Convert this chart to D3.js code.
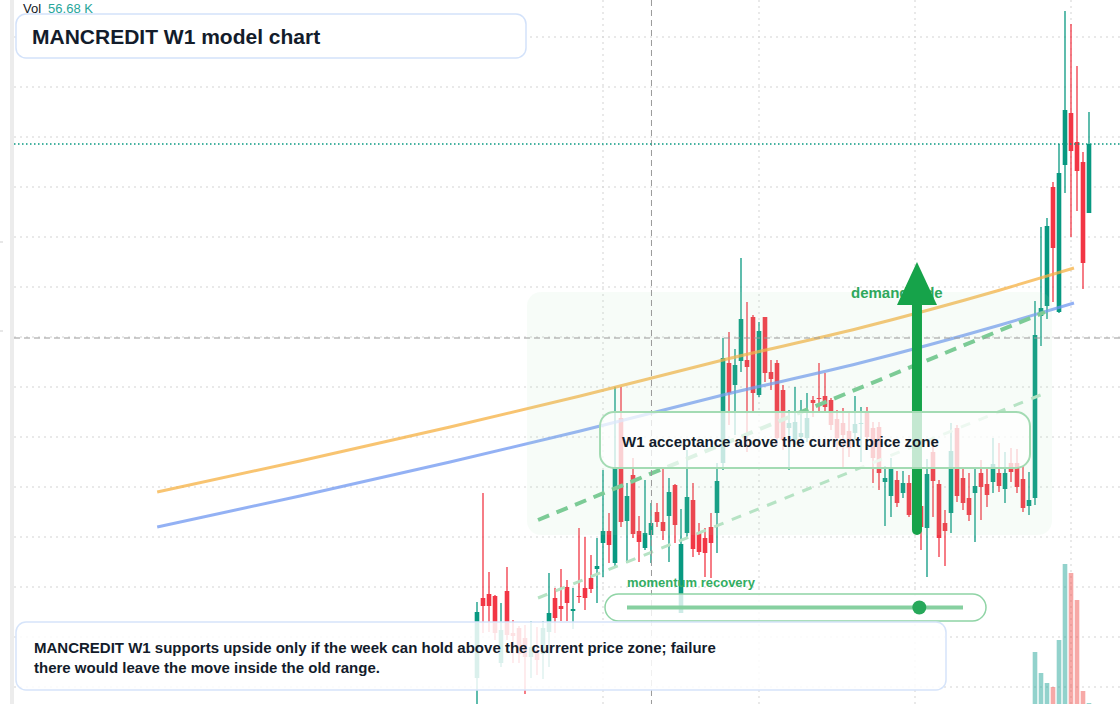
<!DOCTYPE html>
<html lang='en'>
	<head>
		<meta charset='utf-8'>
		<title>MANCREDIT W1 model chart</title>
		<script type='text/javascript' src='https://cdn.jsdelivr.net/npm/d3@7/dist/d3.min.js'></script>
		<style>
			body { margin: 0; background: #fff; }
			svg { display: block; font-family: 'Liberation Sans', Arial, sans-serif; }
		</style>
	</head>
	<body>
		<script type='text/javascript'>
		// weekly candles, oldest first (price units)
		var opens  = [11.8,27.8,28.6,28.2,14.8,29.2,20.8,21.8,19.8,16.0,17.4,16.6,21.0,27.8,26.2,30.0,25.2,28.2,29.8,31.8,33.6,38.8,41.2,34.8,63.8,43.2,52.4,41.2,37.8,40.4,45.0,43.0,44.2,50.4,24.8,40.8,47.4,40.8,39.8,42.0,44.8,54.8,74.8,70.4,75.2,75.4,84.0,68.4,84.0,73.0,74.8,69.4,61.8,59.4,60.0,59.8,67.4,67.8,68.2,67.4,63.6,62.8,61.2,60.8,62.6,65.0,61.8,62.0,51.0,48.2,51.4,48.8,50.8,49.4,46.2,41.8,57.0,50.6,42.8,44.8,61.8,51.8,47.8,48.8,52.8,50.6,51.0,52.8,49.6,54.8,54.8,51.6,46.2,47.8,84.2,86.2,110.0,85.0,114.4,124.8,119.0,115.0,104.8];
		var highs  = [27.0,48.8,33.0,28.4,26.8,34.0,23.4,22.2,22.4,23.2,22.0,23.2,32.8,29.8,33.6,31.4,29.8,41.8,40.0,36.4,39.8,53.4,44.8,70.0,70.0,50.8,55.8,44.2,51.4,46.8,46.8,53.6,51.8,50.6,45.6,57.4,50.8,42.8,41.8,44.8,54.8,79.8,81.0,77.6,95.8,87.0,84.4,83.0,84.0,75.4,75.4,70.4,65.4,70.0,67.4,68.8,68.2,74.8,72.8,67.8,65.4,65.8,65.0,68.2,66.0,66.0,63.0,63.0,54.2,55.8,53.2,53.2,52.4,51.8,48.4,55.6,59.4,51.4,45.4,62.8,62.4,54.0,52.8,53.8,55.4,53.8,59.8,58.8,57.0,57.8,57.6,54.2,53.0,87.2,102.0,103.8,111.0,118.6,145.2,142.6,134.2,117.0,125.0];
		var lows   = [6.6,20.8,21.0,19.4,14.0,19.4,14.8,14.8,8.6,11.8,12.4,11.6,14.0,20.8,23.2,23.2,21.6,26.8,25.4,28.8,26.8,32.0,34.8,33.8,42.0,34.8,39.8,35.0,37.4,34.8,42.0,39.4,35.0,38.8,24.8,39.8,36.0,36.4,32.0,31.8,36.8,53.4,62.4,60.4,73.0,57.0,64.8,68.0,71.0,69.4,58.4,57.4,53.4,58.4,59.4,59.0,64.0,65.0,65.0,61.4,57.4,54.0,56.0,59.4,55.0,58.0,50.8,49.4,42.2,44.0,46.0,47.8,44.0,41.0,37.4,32.0,44.0,36.0,34.2,40.8,47.0,45.4,43.2,39.0,43.4,46.0,48.8,49.0,46.8,51.0,48.8,45.0,44.4,46.4,78.2,83.6,87.0,84.8,108.8,100.0,105.2,89.6,104.8];
		var closes = [25.0,26.2,26.2,20.8,21.4,20.4,20.2,16.6,16.0,18.0,15.4,21.8,24.8,23.8,25.6,26.8,25.6,28.0,27.8,29.6,34.2,41.2,38.4,54.0,43.0,48.2,40.6,39.0,40.8,42.8,43.0,41.2,49.0,42.4,38.6,48.0,37.6,37.0,36.8,38.8,51.2,75.8,68.8,74.4,83.6,74.0,68.8,81.2,72.8,71.6,59.8,59.4,62.8,63.0,60.8,63.8,66.8,67.6,66.0,62.4,59.8,60.4,57.8,62.6,62.8,60.0,55.8,52.8,51.8,53.8,46.8,50.8,44.4,42.4,42.0,52.6,51.2,39.8,41.2,57.2,48.2,46.8,44.4,50.2,50.0,48.4,54.6,50.2,52.8,53.0,50.0,45.8,47.4,80.4,85.8,102.2,97.8,112.8,125.4,117.2,113.2,94.8,118.6];

		// volume (K) is only shown for the latest weeks
		var volStart = 93;
		var volumes = [3120, 1860, 1260, 1020, 3840, 8400, 7860, 6240, 780, 56.68];

		// two long averages, sampled at week index
		var avgIdx   = [-53.3, -29.5, -4.5, 17.2, 41, 63.8, 87.2, 99.5];
		var avgUpper = [49.0, 55.2, 62.0, 68.2, 75.4, 81.8, 89.4, 93.8];
		var avgLower = [42.0, 48.2, 55.0, 61.2, 68.4, 74.8, 82.4, 86.8];

		// rising channel
		var chanIdx  = [10.17, 94.67];
		var chanTop  = [43.4, 85.0];
		var chanLowIdx = [10.17, 95.17];
		var chanLow  = [27.8, 69.0];

		// demand zone, arrow, momentum gauge, crosshair
		var zoneIdx = [8.33, 95.83], zonePrice = [40.4, 89.0];
		var arrowIdx = 73.33, arrowFrom = 41.4, arrowTo = 95.0;
		var momentum = 0.87;
		var crossIdx = 29.08, crossPrice = 79.8;
		var gridIdx = [21, 47, 73, 99];
		var gridPrice = [10, 20, 30, 40, 50, 60, 70, 80, 90, 100, 110, 120, 130, 140];

		var titleText = 'MANCREDIT W1 model chart';
		var noteLines = ['MANCREDIT W1 supports upside only if the week can hold above the current price zone; failure',
			'there would leave the move inside the old range.'];
		var boxText = 'W1 acceptance above the current price zone';

		{
			var width = 1120, height = 704;
			var up = '#089981', down = '#f23645';
			var svg = d3.select('body').append('svg').attr('width', width).attr('height', height);

			var x = d3.scaleLinear().domain([0, 102]).range([477, 1089]);
			var y = d3.scaleLinear().domain([0, 147]).range([737, 2]);
			var yv = d3.scaleLinear().domain([0, 9000]).range([704, 554]);

			var candles = d3.range(opens.length).map(i => ({i: i, o: opens[i], h: highs[i], l: lows[i], c: closes[i]}));

			// grid
			svg.append('g').selectAll('line').data(gridPrice).enter().append('line')
				.attr('x1', 14).attr('x2', width).attr('y1', d => y(d)).attr('y2', d => y(d))
				.attr('stroke', '#d3d3d3').attr('stroke-dasharray', '2,4');
			svg.append('g').selectAll('line').data(gridIdx).enter().append('line')
				.attr('x1', d => x(d)).attr('x2', d => x(d)).attr('y1', 0).attr('y2', height)
				.attr('stroke', '#d3d3d3').attr('stroke-dasharray', '2,4');

			svg.append('rect').attr('x', 10).attr('y', 0).attr('width', 4).attr('height', height).attr('fill', '#ececec');
			svg.append('g').selectAll('line').data([242, 331]).enter().append('line')
				.attr('x1', 0).attr('x2', 3).attr('y1', d => d).attr('y2', d => d).attr('stroke', '#cfcfcf');

			// candles
			var g = svg.append('g');
			g.selectAll('.wick').data(candles).enter().append('line')
				.attr('x1', d => x(d.i)).attr('x2', d => x(d.i))
				.attr('y1', d => y(d.h)).attr('y2', d => y(d.l))
				.attr('stroke', d => d.c >= d.o ? up : down).attr('stroke-width', 1.3);
			g.selectAll('.body').data(candles).enter().append('rect')
				.attr('x', d => x(d.i) - 2.3).attr('width', 4.6)
				.attr('y', d => y(Math.max(d.o, d.c)))
				.attr('height', d => Math.max(1, Math.abs(y(d.o) - y(d.c))))
				.attr('fill', d => d.c >= d.o ? up : down);

			// volume
			svg.append('g').selectAll('rect').data(volumes).enter().append('rect')
				.attr('x', (d, k) => x(volStart + k) - 2.3).attr('width', 4.6)
				.attr('y', d => yv(d)).attr('height', d => yv(0) - yv(d))
				.attr('fill', (d, k) => closes[volStart + k] >= opens[volStart + k] ? 'rgba(38,166,154,0.5)' : 'rgba(239,83,80,0.5)');

			// averages
			var avgLine = d3.line().x(d => x(d[0])).y(d => y(d[1])).curve(d3.curveMonotoneX);
			svg.append('path').attr('d', avgLine(avgIdx.map((v, k) => [v, avgUpper[k]])))
				.attr('fill', 'none').attr('stroke', '#f5b041').attr('stroke-opacity', 0.75).attr('stroke-width', 3);
			svg.append('path').attr('d', avgLine(avgIdx.map((v, k) => [v, avgLower[k]])))
				.attr('fill', 'none').attr('stroke', '#6f97f0').attr('stroke-opacity', 0.75).attr('stroke-width', 3);

			// demand zone tint
			svg.append('rect')
				.attr('x', x(zoneIdx[0])).attr('y', y(zonePrice[1]))
				.attr('width', x(zoneIdx[1]) - x(zoneIdx[0])).attr('height', y(zonePrice[0]) - y(zonePrice[1]))
				.attr('rx', 14).attr('fill', 'rgb(180,230,188)').attr('fill-opacity', 0.1);

			// channel
			svg.append('line')
				.attr('x1', x(chanIdx[0])).attr('y1', y(chanTop[0])).attr('x2', x(chanIdx[1])).attr('y2', y(chanTop[1]))
				.attr('stroke', '#7ccb96').attr('stroke-width', 4).attr('stroke-dasharray', '12,8');
			svg.append('line')
				.attr('x1', x(chanLowIdx[0])).attr('y1', y(chanLow[0])).attr('x2', x(chanLowIdx[1])).attr('y2', y(chanLow[1]))
				.attr('stroke', '#b6e3c4').attr('stroke-width', 3).attr('stroke-dasharray', '10,9');

			// crosshair + last price
			svg.append('line').attr('x1', 14).attr('x2', width).attr('y1', y(crossPrice)).attr('y2', y(crossPrice))
				.attr('stroke', '#9a9a9a').attr('stroke-dasharray', '6,4');
			svg.append('line').attr('x1', x(crossIdx)).attr('x2', x(crossIdx)).attr('y1', 0).attr('y2', height)
				.attr('stroke', '#9a9a9a').attr('stroke-dasharray', '6,4');
			var last = closes[closes.length - 1];
			svg.append('line').attr('x1', 14).attr('x2', width).attr('y1', y(last)).attr('y2', y(last))
				.attr('stroke', '#089981').attr('stroke-width', 1.3).attr('stroke-dasharray', '1.5,2.5');

			// arrow, drawn over its label
			var ax = x(arrowIdx);
			svg.append('text').attr('x', 851).attr('y', 298).text('demand side')
				.attr('fill', '#2ea85c').attr('font-size', 15).attr('font-weight', 'bold');
			svg.append('line').attr('x1', ax).attr('x2', ax).attr('y1', y(arrowFrom)).attr('y2', y(arrowTo) + 40)
				.attr('stroke', '#16a34a').attr('stroke-width', 10).attr('stroke-linecap', 'round');
			svg.append('path')
				.attr('d', 'M' + ax + ',' + y(arrowTo) + 'L' + (ax + 20) + ',' + (y(arrowTo) + 43) + 'L' + (ax - 20) + ',' + (y(arrowTo) + 43) + 'Z')
				.attr('fill', '#16a34a');

			// W1 box
			svg.append('rect').attr('x', 600).attr('y', 412).attr('width', 430).attr('height', 56).attr('rx', 14)
				.attr('fill', '#fff').attr('fill-opacity', 0.75).attr('stroke', '#a3dbb3').attr('stroke-width', 2);
			svg.append('text').attr('x', 622).attr('y', 447).text(boxText)
				.attr('fill', '#131c2b').attr('font-size', 15).attr('font-weight', 'bold');

			// momentum gauge
			var mx = d3.scaleLinear().domain([0, 1]).range([627, 963]);
			svg.append('text').attr('x', 627).attr('y', 587).text('momentum recovery')
				.attr('fill', '#33ad62').attr('font-size', 13).attr('font-weight', 'bold');
			svg.append('rect').attr('x', 605).attr('y', 594).attr('width', 381).attr('height', 27).attr('rx', 13.5)
				.attr('fill', '#fff').attr('fill-opacity', 0.8).attr('stroke', '#8fd4a5').attr('stroke-width', 1.5);
			svg.append('line').attr('x1', mx(0)).attr('x2', mx(1)).attr('y1', 607.5).attr('y2', 607.5)
				.attr('stroke', '#86d0a0').attr('stroke-width', 4);
			svg.append('circle').attr('cx', mx(momentum)).attr('cy', 607.5).attr('r', 7).attr('fill', '#27a85a');

			// bottom note
			svg.append('rect').attr('x', 16).attr('y', 622).attr('width', 930).attr('height', 68).attr('rx', 10)
				.attr('fill', '#fff').attr('fill-opacity', 0.85).attr('stroke', '#d6e4fa').attr('stroke-width', 1.5);
			svg.append('g').selectAll('text').data(noteLines).enter().append('text')
				.attr('x', 34).attr('y', (d, k) => 653 + k * 20).text(d => d)
				.attr('fill', '#131c2b').attr('font-size', 15).attr('font-weight', 'bold');

			// title
			svg.append('rect').attr('x', 16).attr('y', 14).attr('width', 510).attr('height', 44).attr('rx', 10)
				.attr('fill', '#fff').attr('stroke', '#d3e2fa').attr('stroke-width', 1.5);
			svg.append('text').attr('x', 32).attr('y', 43.5).text(titleText)
				.attr('fill', '#131c2b').attr('font-size', 21).attr('font-weight', 'bold');

			var vol = svg.append('text').attr('x', 23).attr('y', 13).attr('font-size', 13);
			vol.append('tspan').attr('fill', '#131722').text('Vol');
			vol.append('tspan').attr('fill', '#26a69a').attr('dx', 7).text(d3.format('.2f')(volumes[volumes.length - 1]) + ' K');
		}
		</script>
	</body>
</html>
